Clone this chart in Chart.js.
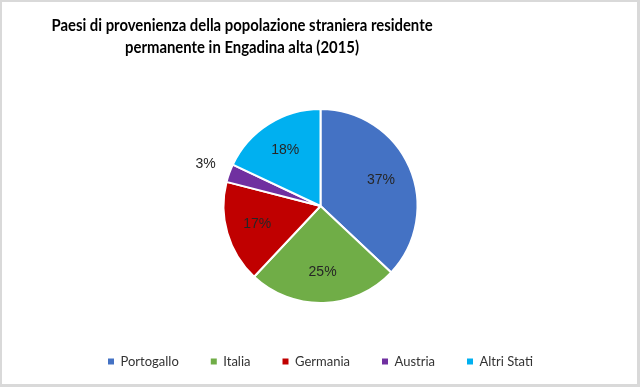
<!DOCTYPE html>
<html>
<head>
<meta charset="utf-8">
<script src="https://cdn.jsdelivr.net/npm/chart.js@4"></script>
<style>
  body { margin: 0; background: #d9d9d9; }
  #wrap { position: absolute; left: 2px; top: 2px; width: 635px; height: 382px; background: #fff; }
</style>
</head>
<body>
<div id="wrap"><canvas id="torta"></canvas></div>
<script>
// Dati del grafico
const paesi = ['Portogallo', 'Italia', 'Germania', 'Austria', 'Altri Stati'];
const quote = [37, 25, 17, 3, 18];
const colori = ['#4472C4', '#70AD47', '#C00000', '#7030A0', '#00B0F0'];
const titolo = ['Paesi di provenienza della popolazione straniera residente', 'permanente in Engadina alta (2015)'];

// Titolo disegnato a mano (spostato a sinistra come nell'originale)
const titoloPlugin = {
    id: 'titolo',
    afterDraw(chart) {
        const c = chart.ctx;
        c.font = 'bold 17px Lato';
        c.fillStyle = '#000';
        c.textAlign = 'center';
        c.textBaseline = 'middle';
        titolo.forEach((riga, i) => {
            c.save();
            c.translate(240, 24 + i * 22);
            c.scale(0.875, 1);
            c.fillText(riga, 0, 0);
            c.restore();
        });
    }
};

// Etichette percentuali sulle fette
const etichettePlugin = {
    id: 'etichette',
    afterDatasetsDraw(chart) {
        const c = chart.ctx;
        const meta = chart.getDatasetMeta(0);
        c.save();
        c.font = '14px "Liberation Sans"';
        c.fillStyle = '#262626';
        c.textAlign = 'center';
        c.textBaseline = 'middle';
        meta.data.forEach((arc, i) => {
            const p = arc.getProps(['x', 'y', 'startAngle', 'endAngle', 'outerRadius'], true);
            const mid = (p.startAngle + p.endAngle) / 2;
            const k = quote[i] < 5 ? 1.26 : 0.68;
            const x = p.x + Math.cos(mid) * p.outerRadius * k;
            const y = p.y + Math.sin(mid) * p.outerRadius * k;
            c.fillText(quote[i] + '%', x, y);
        });
        c.restore();
    }
};

const ctx = document.getElementById('torta').getContext('2d');
new Chart(ctx, {
    type: 'pie',
    data: {
        labels: paesi,
        datasets: [{
            data: quote,
            backgroundColor: colori,
            borderColor: '#fff',
            borderWidth: 2,
            radius: 97
        }]
    },
    options: {
        responsive: true,
        maintainAspectRatio: false,
        animation: false,
        layout: {
            padding: { top: 87, bottom: 6, left: 2, right: 0 }
        },
        plugins: {
            tooltip: { enabled: false },
            legend: {
                position: 'bottom',
                labels: {
                    boxWidth: 6,
                    boxHeight: 6,
                    padding: 32,
                    color: '#333',
                    font: { family: 'Lato', size: 13 },
                    generateLabels(chart) {
                        const items = Chart.overrides.pie.plugins.legend.labels.generateLabels(chart);
                        items.forEach(it => { it.lineWidth = 0; });
                        return items;
                    }
                }
            }
        }
    },
    plugins: [titoloPlugin, etichettePlugin]
});
</script>
</body>
</html>
